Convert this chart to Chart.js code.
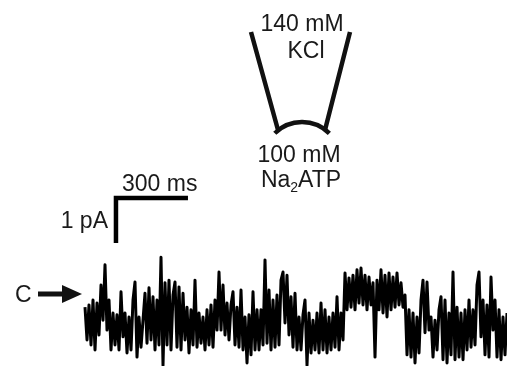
<!DOCTYPE html>
<html>
<head>
<meta charset="utf-8">
<script src="https://cdn.jsdelivr.net/npm/chart.js@4.4.0/dist/chart.umd.min.js"></script>
<style>
    html, body { margin: 0; padding: 0; background: #fff; }
    #grafico-box { width: 507px; height: 366px; }
</style>
</head>
<body>
<div id="grafico-box"><canvas id="grafico" width="507" height="366"></canvas></div>
<script>
// single channel record, current in pA, one sample every 8.33 ms
var sampleMs = 300 / 36;
var correntePA = [
    -0.27, -1.00, -0.22, -1.11, -0.11, -1.22, -0.18, -0.89, 0.22, -0.56,
    0.67, -0.78, -0.11, -1.22, -0.40, -1.11, -0.44, -1.22, 0.07, -0.93,
    -0.40, -1.29, -0.49, -1.22, -0.11, 0.29, -1.38, -0.49, -1.16, -0.56,
    0.04, -1.07, 0.16, -1.00, -0.04, -1.22, -0.11, -1.11, 0.84, -1.56,
    0.27, -1.11, 0.33, -1.22, 0, 0.29, -1.16, 0.18, -1.22, 0.04,
    -1.00, -0.27, -1.29, -0.33, -1.11, 0.33, -1.16, -0.40, -1.07, -0.49,
    -1.22, -0.33, -1.11, -0.22, -1.16, -0.11, -0.78, 0.51, -0.78, 0.22,
    -0.89, -0.18, -1.00, -0.22, 0.07, -1.11, -0.27, -1.16, 0.11, -1.22,
    -0.49, -1.51, -0.44, -1.33, 0.07, -1.22, -0.33, -1.22, -0.33, -1.11,
    0.78, -1.07, 0.11, -1.22, -0.11, -1.16, 0, -1.11, 0.33, 0.51,
    -0.62, 0.44, -0.89, -0.04, -1.16, 0.04, -1.22, -0.49, -1.22, -0.44,
    -0.11, -1.56, -0.40, -1.29, -0.56, -1.22, -0.40, -1.29, -0.18, -1.22,
    -0.33, -1.29, -0.49, -1.22, -0.40, -1.16, -0.04, -1.22, -0.40, -1.00,
    0.49, -0.33, 0.38, -0.27, 0.44, -0.33, 0.56, -0.18, 0.60, -0.22,
    0.44, -0.33, 0.40, -0.22, 0.27, -1.38, 0.33, -0.33, 0.56, -0.40,
    0.44, -0.49, 0.49, -0.33, 0.40, -0.27, 0.49, -0.22, 0.27, -0.27,
    0, -1.33, -0.33, -1.38, -0.40, -1.51, -0.49, -1.29, -0.11, 0.33,
    -0.84, 0.29, -0.78, -0.49, -1.38, -0.56, -1.22, -0.33, -0.04, -1.44,
    -0.11, -1.51, -0.40, -1.33, 0.51, -1.44, -0.27, -1.38, -0.40, -1.44,
    -0.33, -1.22, -0.11, -1.16, -0.33, -1.11, 0.22, 0.51, -0.93, -0.11,
    -1.33, -0.22, -1.38, 0.40, -0.78, -0.11, -1.38, -0.33, -1.44, -0.49,
    -1.33, -0.40
];

// scale bar sizes
var barraMs = 300;
var barraPA = 1;

var pontosTraco = correntePA.map(function(v, i) {
    return { x: i * sampleMs, y: v };
});

// scale bar corner (ms, pA)
var cantoX = 129, cantoY = 2.156;
var pontosBarra = [
    { x: cantoX, y: cantoY - barraPA },
    { x: cantoX, y: cantoY },
    { x: cantoX + barraMs, y: cantoY }
];

var fonte = '23px "Liberation Sans", Arial, sans-serif';
var corTexto = '#1a1a1a';

// pipette, labels and the C arrow
var desenhoExtra = {
    id: 'desenhoExtra',
    afterDraw: function(chart) {
        var ctx = chart.ctx;
        var sx = chart.scales.x, sy = chart.scales.y;
        ctx.save();
        ctx.fillStyle = corTexto;
        ctx.font = fonte;
        ctx.textBaseline = 'alphabetic';

        // scale bar labels
        var bx = sx.getPixelForValue(cantoX);
        var by = sy.getPixelForValue(cantoY);
        ctx.textAlign = 'left';
        ctx.fillText(barraMs + ' ms', bx + 6, by - 7);
        ctx.textAlign = 'right';
        ctx.fillText(barraPA + ' pA', bx - 8, by + 30);

        // closed level marker
        var cy = sy.getPixelForValue(0) - 1;
        ctx.textAlign = 'left';
        ctx.fillText('C', 15, cy + 8);
        ctx.fillStyle = '#111';
        ctx.fillRect(38, cy - 2.5, 26, 5);
        ctx.beginPath();
        ctx.moveTo(62, cy - 9);
        ctx.lineTo(82, cy);
        ctx.lineTo(62, cy + 9);
        ctx.closePath();
        ctx.fill();

        // pipette
        ctx.strokeStyle = '#111';
        ctx.lineWidth = 4.5;
        ctx.lineCap = 'butt';
        ctx.beginPath();
        ctx.moveTo(251, 32);
        ctx.lineTo(278, 130);
        ctx.moveTo(350, 32);
        ctx.lineTo(325, 130);
        ctx.stroke();
        ctx.beginPath();
        ctx.arc(302, 160.6, 38.6, 3.93, 5.50);
        ctx.stroke();

        ctx.fillStyle = corTexto;
        ctx.textAlign = 'center';
        ctx.fillText('140 mM', 302, 31);
        ctx.fillText('KCl', 306, 58);
        ctx.fillText('100 mM', 299, 162);

        // Na2ATP with subscript
        var wNa = ctx.measureText('Na').width;
        var wATP = ctx.measureText('ATP').width;
        ctx.font = '14px "Liberation Sans", Arial, sans-serif';
        var w2 = ctx.measureText('2').width;
        var x0 = 301 - (wNa + w2 + wATP) / 2;
        ctx.textAlign = 'left';
        ctx.fillText('2', x0 + wNa, 192);
        ctx.font = fonte;
        ctx.fillText('Na', x0, 187);
        ctx.fillText('ATP', x0 + wNa + w2, 187);
        ctx.restore();
    }
};

var ctx = document.getElementById('grafico').getContext('2d');

var grafico = new Chart(ctx, {
    type: 'line',
    data: {
        datasets: [{
            label: 'corrente',
            data: pontosTraco,
            borderColor: '#000',
            borderWidth: 3,
            borderJoinStyle: 'round',
            pointRadius: 0,
            tension: 0,
            clip: false
        }, {
            label: 'barra',
            data: pontosBarra,
            borderColor: '#000',
            borderWidth: 4.5,
            borderJoinStyle: 'miter',
            pointRadius: 0,
            tension: 0,
            clip: false
        }]
    },
    options: {
        responsive: false,
        animation: false,
        layout: { padding: 0 },
        scales: {
            x: { type: 'linear', display: false, min: -354.2, max: 1758.3 },
            y: { type: 'linear', display: false, min: -1.578, max: 6.556 }
        },
        plugins: {
            legend: { display: false },
            tooltip: { enabled: false }
        }
    },
    plugins: [desenhoExtra]
});
</script>
</body>
</html>
